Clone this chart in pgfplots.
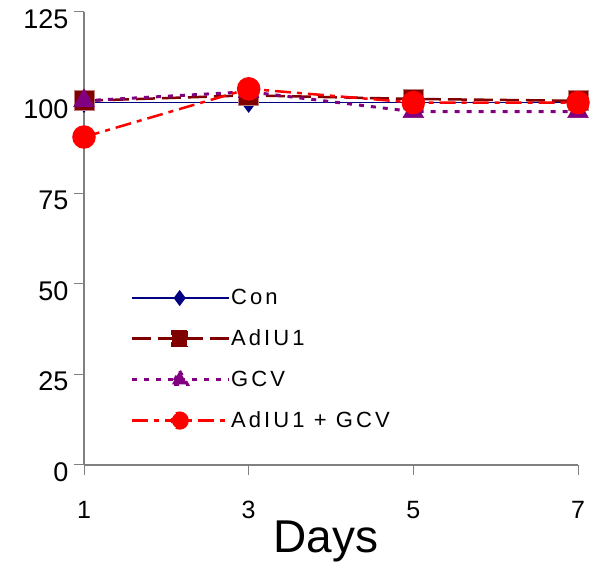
\documentclass[border=0pt]{standalone}
\usepackage{fontspec}
\setmainfont{Liberation Sans}
\newfontfamily\legfont[LetterSpace=14]{Liberation Sans}
\usepackage{pgfplots}
\pgfplotsset{compat=1.18}
\definecolor{con}{HTML}{000080}
\definecolor{adiu}{HTML}{800000}
\definecolor{adiuedge}{HTML}{C08080}
\definecolor{gcv}{HTML}{800080}
\definecolor{combo}{HTML}{FF0000}
\definecolor{axgray}{HTML}{808080}
\begin{document}
\begin{tikzpicture}
\begin{axis}[
  scale only axis, width=494bp, height=453bp,
  at={(84bp,108bp)}, anchor=south west,
  xmin=1, xmax=7, ymin=0, ymax=125,
  xtick={1,3,5,7}, ytick={0,25,50,75,100,125},
  axis lines=left, axis line style={axgray, line width=1.2bp, -},
  tick style={axgray, line width=1bp},
  tick align=outside, major tick length=10bp,
  clip=false,
  /pgf/number format/assume math mode=true,
  xticklabel style={font=\fontsize{25bp}{28bp}\selectfont, yshift=-23bp},
  yticklabel style={font=\fontsize{27bp}{30bp}\selectfont, xshift=-2bp, yshift=-7bp},
  xlabel={Days},
  xlabel style={font=\fontsize{46bp}{50bp}\selectfont, at={(axis description cs:0.49,0)}, anchor=north, yshift=-52bp},
  legend image code/.code={\draw[mark repeat=2,mark phase=2,#1] plot coordinates {(0bp,0bp) (48bp,0bp) (97bp,0bp)};},
  legend style={draw=none, fill=none, at={(0.087,0.392)}, anchor=north west,
    font=\legfont\fontsize{22bp}{26bp}\selectfont, row sep=23.5bp, column sep=1bp,
    nodes={inner sep=0pt}},
  legend cell align=left,
  every legend image post/.style={mark options={scale=0.75}},
]
\addplot[con, line width=1.6bp, mark=diamond*, mark size=9bp, mark options={solid, fill=con, draw=con}]
  coordinates {(1,100) (3,100) (5,100) (7,100)};
\addlegendentry{Con}
\addplot[adiu, line width=2.5bp, dash pattern=on 19bp off 7bp, mark=square*, mark size=10bp, mark options={solid, fill=adiu, draw=adiuedge, line width=0.8bp}]
  coordinates {(1,100.5) (3,102) (5,101) (7,100.5)};
\addlegendentry{AdIU1}
\addplot[gcv, line width=3bp, dash pattern=on 5bp off 7bp, mark=triangle*, mark size=12bp, mark options={solid, fill=gcv, draw=gcv, line width=0.5bp}]
  coordinates {(1,100.5) (3,103) (5,97.5) (7,97.5)};
\addlegendentry{GCV}
\addplot[combo, line width=2.5bp, dash pattern=on 16bp off 6bp on 5bp off 6bp, mark=*, mark size=10.5bp, mark options={solid, fill=combo, draw=combo}]
  coordinates {(1,90.5) (3,103.8) (5,100) (7,100)};
\addlegendentry{AdIU1 + GCV}
\end{axis}
\pgfresetboundingbox
\useasboundingbox (0,0) rectangle (594bp,573bp);
\end{tikzpicture}
\end{document}
